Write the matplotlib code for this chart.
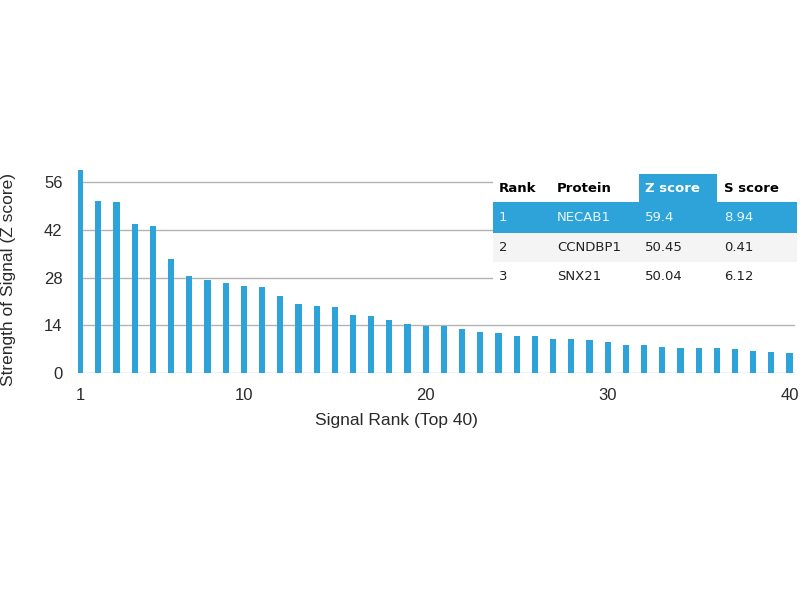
import matplotlib.pyplot as plt
from matplotlib.patches import Rectangle

# Z scores of the top 40 signals
ranks = list(range(1, 41))
z_scores = [59.4, 50.45, 50.04, 43.7, 43.1, 33.4, 28.4, 27.3, 26.4, 25.5,
            25.2, 22.6, 20.2, 19.7, 19.3, 17.1, 16.7, 15.4, 14.5, 13.9,
            13.8, 13.0, 11.9, 11.6, 10.9, 10.8, 10.1, 9.9, 9.7, 9.2,
            8.2, 8.2, 7.7, 7.4, 7.3, 7.2, 7.0, 6.5, 6.2, 6.0]

# Table data
table_header = ['Rank', 'Protein', 'Z score', 'S score']
table_rows = [
    ['1', 'NECAB1', '59.4', '8.94'],
    ['2', 'CCNDBP1', '50.45', '0.41'],
    ['3', 'SNX21', '50.04', '6.12'],
]

blue = '#2ea3d9'
txt = '#2a2a2a'

fig = plt.figure(figsize=(8, 6), dpi=100)
ax = fig.add_axes([78 / 800, 227 / 600, 717 / 800, 204.6 / 600])

ax.bar(ranks, z_scores, width=0.34, color=blue, zorder=2)
ax.set_xlim(0.88, 40.3)
ax.set_ylim(0, 60)
ax.set_yticks([0, 14, 28, 42, 56])
ax.set_xticks([1, 10, 20, 30, 40])
ax.yaxis.grid(True, color='#b3b3b3', linewidth=1, zorder=0)
ax.set_axisbelow(True)
for s in ax.spines.values():
    s.set_visible(False)
ax.tick_params(length=0, labelsize=12, labelcolor=txt)
ax.tick_params(axis='x', pad=11)
ax.tick_params(axis='y', pad=11)
for lab in ax.get_xticklabels() + ax.get_yticklabels():
    lab.set_family('Liberation Sans')

ax.text((396 - 78) / 717, (373 - 421) / 204.6, 'Signal Rank (Top 40)',
        transform=ax.transAxes, ha='center', va='center',
        family='Liberation Sans', fontsize=12.5, color=txt)
ax.text((9 - 78) / 717, (373 - 280) / 204.6, 'Strength of Signal (Z score)',
        transform=ax.transAxes, ha='center', va='center', rotation=90,
        family='Liberation Sans', fontsize=12.5, color=txt)

# Table drawn in figure pixel coordinates
def fx(px):
    return px / 800

def fy(py):
    return 1 - py / 600

tl, tr = 493, 797
col_x = [499, 557, 645, 724]
row_edges = [174, 202, 233, 262, 290]
row_bg = ['white', blue, '#f4f4f4', 'white']

for i in range(4):
    y0, y1 = row_edges[i], row_edges[i + 1]
    fig.patches.append(Rectangle((fx(tl), fy(y1)), fx(tr) - fx(tl), fy(y0) - fy(y1),
                                 transform=fig.transFigure, facecolor=row_bg[i],
                                 edgecolor='none', zorder=3))
# blue header cell for Z score
fig.patches.append(Rectangle((fx(639), fy(202)), fx(717) - fx(639), fy(174) - fy(202),
                             transform=fig.transFigure, facecolor=blue,
                             edgecolor='none', zorder=3))

for j, h in enumerate(table_header):
    fig.text(fx(col_x[j]), fy(188), h, fontsize=9.5, fontweight='bold',
             color='white' if j == 2 else 'black', va='center', ha='left',
             family='DejaVu Sans', zorder=4)
for i, row in enumerate(table_rows):
    yc = (row_edges[i + 1] + row_edges[i + 2]) / 2
    for j, v in enumerate(row):
        fig.text(fx(col_x[j]), fy(yc), v, fontsize=9.5,
                 color='#e8f6fc' if i == 0 else '#222222', va='center', ha='left',
                 family='DejaVu Sans', zorder=4)

fig.savefig('out.png', dpi=100)
